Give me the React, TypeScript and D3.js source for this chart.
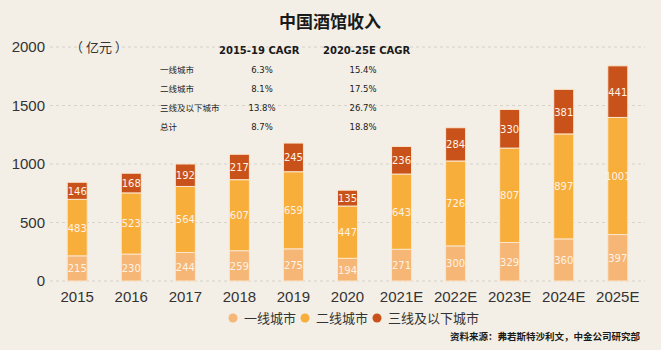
import React, { useEffect, useRef } from 'react';
import * as d3 from 'd3';

// chart data
const years = ['2015', '2016', '2017', '2018', '2019', '2020', '2021E', '2022E', '2023E', '2024E', '2025E'];
const tier1 = [215, 230, 244, 259, 275, 194, 271, 300, 329, 360, 397];
const tier2 = [483, 523, 564, 607, 659, 447, 643, 726, 807, 897, 1001];
const tier3 = [146, 168, 192, 217, 245, 135, 236, 284, 330, 381, 441];
const seriesNames = ['一线城市', '二线城市', '三线及以下城市'];
const seriesColors = ['#f5b676', '#f8ae3b', '#c8521a'];
const yTicks = [0, 500, 1000, 1500, 2000];

const cagrRows = ['一线城市', '二线城市', '三线及以下城市', '总计'];
const cagr1519 = ['6.3%', '8.1%', '13.8%', '8.7%'];
const cagr2025 = ['15.4%', '17.5%', '26.7%', '18.8%'];

const W = 661;
const H = 350;
const FONT = "'Noto Sans CJK SC', 'Noto Sans', sans-serif";
const NUMFONT = "'Liberation Sans', sans-serif";

const App = () => {
    const ref = useRef<SVGSVGElement>(null);

    useEffect(() => {
        const svg = d3.select(ref.current);
        svg.selectAll('*').remove();

        svg.append('rect').attr('width', W).attr('height', H).attr('fill', '#f3efe6');

        const x = d3.scaleBand().domain(years).range([51, 644]).paddingInner(0.63).paddingOuter(0.3);
        const y = d3.scaleLinear().domain([0, 2000]).range([281, 47]);

        // title
        svg.append('text')
            .attr('x', 330).attr('y', 28)
            .attr('text-anchor', 'middle')
            .style('font-family', FONT)
            .style('font-size', '17px')
            .style('font-weight', 'bold')
            .attr('fill', '#1a1a1a')
            .text('中国酒馆收入');

        // grid + y axis
        const yAxis = d3.axisLeft(y).tickValues(yTicks).tickSize(0).tickPadding(0).tickFormat(d3.format('d'));
        const gy = svg.append('g').attr('transform', 'translate(45,0)').call(yAxis);
        gy.select('.domain').remove();
        gy.selectAll('text')
            .style('font-family', NUMFONT)
            .style('font-size', '15px')
            .attr('fill', '#333');

        svg.append('g').selectAll('line')
            .data(yTicks)
            .enter()
            .append('line')
            .attr('x1', 50).attr('x2', 645)
            .attr('y1', (d) => y(d)).attr('y2', (d) => y(d))
            .attr('stroke', '#d6d2ca')
            .attr('stroke-width', 1)
            .attr('stroke-dasharray', '3,3');

        svg.append('text')
            .attr('x', 70).attr('y', 52)
            .style('font-family', FONT)
            .style('font-size', '13px')
            .attr('fill', '#333')
            .text('（ 亿元 ）');

        // stacked bars
        const table = years.map((yr, i) => ({ year: yr, a: tier1[i], b: tier2[i], c: tier3[i] }));
        const stacked = d3.stack<any>().keys(['a', 'b', 'c'])(table);

        stacked.forEach((layer, k) => {
            const g = svg.append('g');
            g.selectAll('rect')
                .data(layer)
                .enter()
                .append('rect')
                .attr('x', (d: any) => x(d.data.year) as number)
                .attr('y', (d) => y(d[1]))
                .attr('width', x.bandwidth())
                .attr('height', (d) => y(d[0]) - y(d[1]))
                .attr('fill', seriesColors[k])
                .attr('stroke', '#fbe6cc')
                .attr('stroke-width', 1);
            g.selectAll('text')
                .data(layer)
                .enter()
                .append('text')
                .attr('x', (d: any) => (x(d.data.year) as number) + x.bandwidth() / 2)
                .attr('y', (d) => (y(d[0]) + y(d[1])) / 2 + 4)
                .attr('text-anchor', 'middle')
                .style('font-family', "'DejaVu Sans', sans-serif")
                .style('font-size', '10px')
                .attr('fill', '#fdf3e6')
                .text((d) => d[1] - d[0]);
        });

        // x axis labels
        const xAxis = d3.axisBottom(x).tickSize(0).tickPadding(8);
        const gx = svg.append('g').attr('transform', 'translate(0,283)').call(xAxis);
        gx.select('.domain').remove();
        gx.selectAll('text')
            .style('font-family', NUMFONT)
            .style('font-size', '15px')
            .attr('fill', '#333');

        // CAGR table
        const tbl = svg.append('g').style('font-family', FONT).attr('fill', '#1a1a1a');
        tbl.append('text').attr('x', 219).attr('y', 54)
            .style('font-size', '10px').style('font-weight', 'bold')
            .style('font-family', "'DejaVu Sans', sans-serif")
            .text('2015-19 CAGR');
        tbl.append('text').attr('x', 323).attr('y', 54)
            .style('font-size', '10px').style('font-weight', 'bold')
            .style('font-family', "'DejaVu Sans', sans-serif")
            .text('2020-25E CAGR');
        cagrRows.forEach((r, i) => {
            const ty = 73 + i * 19;
            tbl.append('text').attr('x', 160).attr('y', ty)
                .style('font-size', '8.5px').text(r);
            tbl.append('text').attr('x', 262).attr('y', ty)
                .attr('text-anchor', 'middle')
                .style('font-family', "'DejaVu Sans', sans-serif")
                .style('font-size', '8.5px').text(cagr1519[i]);
            tbl.append('text').attr('x', 363).attr('y', ty)
                .attr('text-anchor', 'middle')
                .style('font-family', "'DejaVu Sans', sans-serif")
                .style('font-size', '8.5px').text(cagr2025[i]);
        });

        // legend
        const legendX = [233, 305, 377];
        const leg = svg.append('g');
        seriesNames.forEach((n, i) => {
            leg.append('circle').attr('cx', legendX[i]).attr('cy', 318).attr('r', 4.5).attr('fill', seriesColors[i]);
            leg.append('text').attr('x', legendX[i] + 11).attr('y', 323)
                .style('font-family', FONT)
                .style('font-size', '13px')
                .attr('fill', '#333')
                .text(n);
        });

        // source
        svg.append('text')
            .attr('x', 640).attr('y', 340)
            .attr('text-anchor', 'end')
            .style('font-family', FONT)
            .style('font-size', '9.5px')
            .style('font-weight', 'bold')
            .attr('fill', '#1a1a1a')
            .text('资料来源：弗若斯特沙利文，中金公司研究部');
    }, []);

    return (
        <svg ref={ref} width={W} height={H} style={{ display: 'block', position: 'absolute', left: 0, top: 0 }} />
    );
};

export default App;
